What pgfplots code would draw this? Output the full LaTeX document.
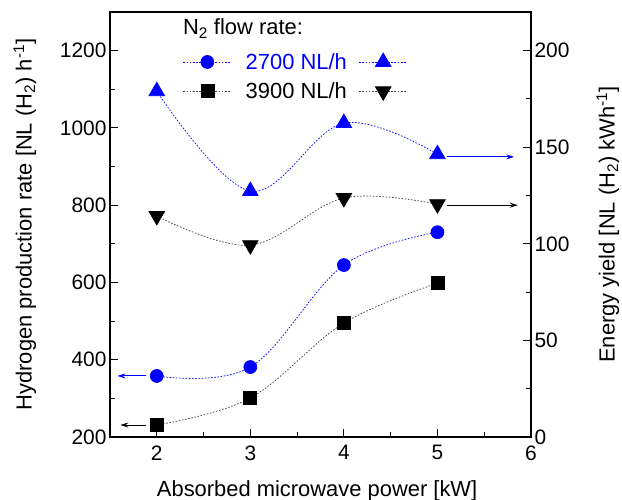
\documentclass[border=0pt]{standalone}
\usepackage{fontspec}
\setmainfont{Liberation Sans}
\usepackage{pgfplots}
\pgfplotsset{compat=1.18}
\usetikzlibrary{arrows.meta}

\newcommand{\tickf}{\fontsize{21}{25}\selectfont}
\newcommand{\bigf}{\fontsize{22}{26}\selectfont}

\pgfplotsset{
  common/.style={
    width=421bp, height=425bp, scale only axis,
    xmin=1.5, xmax=6,
    tick align=inside,
    major tick length=8bp, minor tick length=5bp,
    axis line style={line width=1.4bp},
    every tick/.style={line width=1.1bp, black},
    tick label style={font=\tickf},
    label style={font=\bigf, inner sep=0pt},
    /pgf/number format/assume math mode=true,
    /pgf/number format/1000 sep={},
  },
  bluel/.style={blue, line width=0.7bp, dash pattern=on 1.6bp off 1.6bp,
    smooth, tension=0.6, mark options={solid, fill=blue, draw=blue}},
  blackl/.style={black!75, line width=0.7bp, dash pattern=on 1.6bp off 1.6bp,
    smooth, tension=0.6, mark options={solid, fill=black, draw=black}},
  downtri/.style={mark=triangle*, mark size=9bp,
    mark options={solid, fill=black, draw=black, rotate=180}},
}

\begin{document}
\begin{tikzpicture}
\begin{axis}[
  common,
  ymin=200, ymax=1300,
  xtick={2,3,4,5,6},
  ytick={200,400,...,1200},
  minor x tick num=1,
  minor y tick num=1,
  xtick pos=bottom, ytick pos=left,
  xticklabel style={yshift=-5bp},
  xlabel={Absorbed microwave power [kW]},
  ylabel={Hydrogen production rate [NL (H\textsubscript{2}) h\textsuperscript{-1}]},
  xlabel style={at={(axis description cs:0.492,-0.141)}, anchor=base},
  ylabel style={at={(axis description cs:-0.175,0.5)}, anchor=south},
]
\coordinate (bl) at (rel axis cs:0,0);
\coordinate (tr) at (rel axis cs:1,1);
% 2700 NL/h, production rate
\addplot[bluel, mark=*, mark size=6.5bp] coordinates {
  (2,358) (3,381) (4,645) (5,730)
};
% 3900 NL/h, production rate
\addplot[blackl, mark=square*, mark size=6.5bp] coordinates {
  (2,231) (3,301) (4,495) (5,598)
};
\draw[blue, line width=1bp, -{Stealth[length=8bp,width=5bp]}]
  (axis cs:1.89,358) -- (axis cs:1.58,358);
\draw[black, line width=1bp, -{Stealth[length=8bp,width=5bp]}]
  (axis cs:1.89,231) -- (axis cs:1.61,231);
\end{axis}

\begin{axis}[
  common,
  ymin=0, ymax=220,
  ytick={0,50,...,200},
  minor y tick num=1,
  axis x line=none,
  axis y line*=right,
  ylabel={Energy yield [NL (H\textsubscript{2}) kWh\textsuperscript{-1}]},
  ylabel style={at={(axis description cs:1.155,0.5)}, anchor=north, rotate=0},
  legend columns=2,
  legend cell align=left,
  legend style={draw=none, fill=none, font=\bigf,
    at={(axis description cs:0.173,0.908)}, anchor=north west,
    inner sep=0pt, row sep=8bp,
    /tikz/every odd column/.append style={column sep=12bp},
    /tikz/every even column/.append style={column sep=10bp},
  },
  legend image code/.code={
    \draw[mark repeat=2, mark phase=2] plot coordinates {(0bp,0bp) (24bp,0bp) (48bp,0bp)};
  },
]
\addlegendimage{bluel, mark=*, mark size=6.5bp}
\addlegendentry{\textcolor{blue}{2700 NL/h}}
\addlegendimage{bluel, mark=triangle*, mark size=9bp}
\addlegendentry{}
\addlegendimage{blackl, mark=square*, mark size=6.5bp}
\addlegendentry{3900 NL/h}
\addlegendimage{blackl, downtri}
\addlegendentry{}
% 2700 NL/h, energy yield
\addplot[bluel, mark=triangle*, mark size=9bp, forget plot] coordinates {
  (2,179) (3,127.3) (4,162.5) (5,146.4)
};
% 3900 NL/h, energy yield
\addplot[blackl, downtri, forget plot] coordinates {
  (2,114.4) (3,99.3) (4,123.7) (5,120.5)
};
\draw[blue, line width=1bp, -{Stealth[length=8bp,width=5bp]}]
  (axis cs:5.1,145) -- (axis cs:5.82,145);
\draw[black, line width=1bp, -{Stealth[length=8bp,width=5bp]}]
  (axis cs:5.1,120) -- (axis cs:5.86,120);
\node[anchor=base west, font=\bigf, inner sep=0pt]
  at (axis description cs:0.173,0.946) {N\textsubscript{2} flow rate:};
\end{axis}
\pgfresetboundingbox
\path[use as bounding box] ([shift={(-110bp,-63bp)}]bl) rectangle ([shift={(91bp,12bp)}]tr);
\end{tikzpicture}
\end{document}
